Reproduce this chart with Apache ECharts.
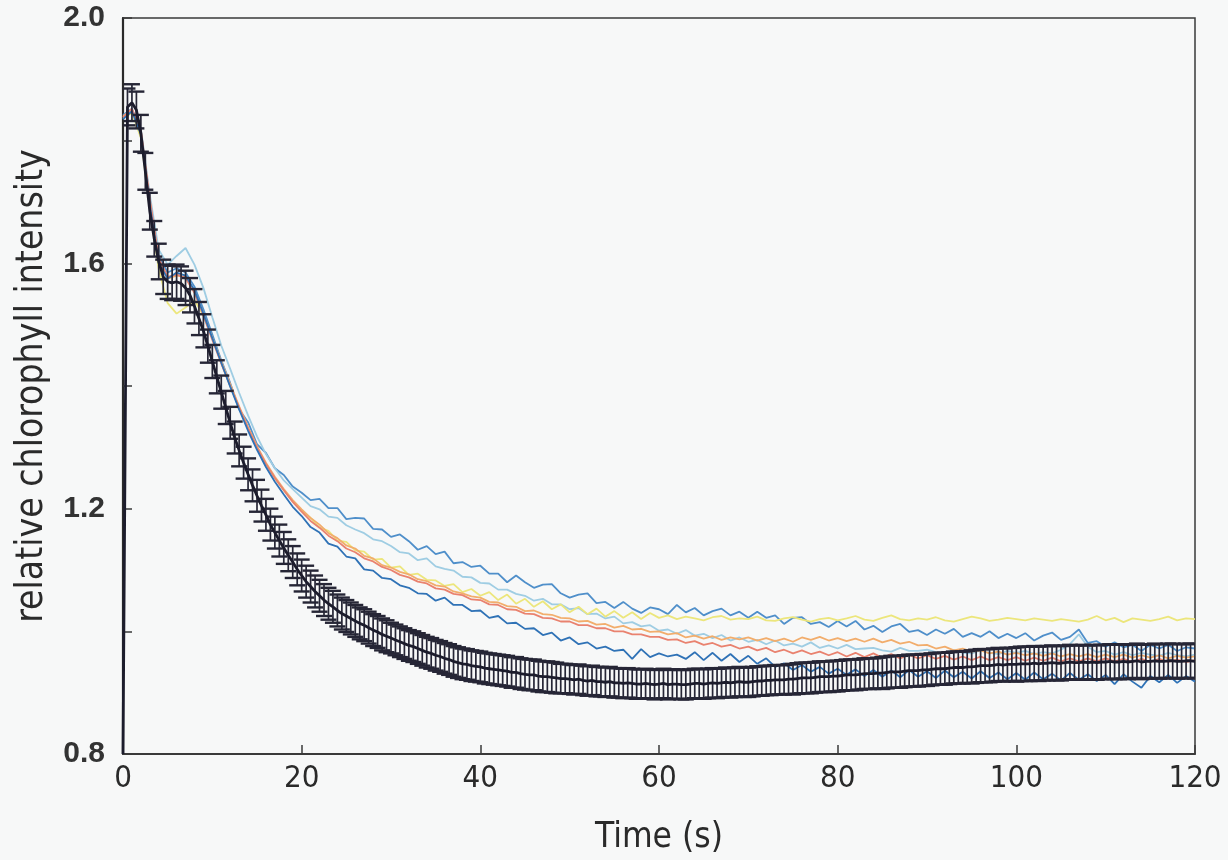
<!DOCTYPE html>
<html>
<head>
<meta charset="utf-8">
<script src="https://cdn.jsdelivr.net/npm/echarts@6/dist/echarts.min.js"></script>
<style>
html,body{margin:0;padding:0;background:#f7f8f8;}
#chart{width:1228px;height:860px;}
</style>
</head>
<body>
<div id="chart"></div>
<script>
// ---------- DATA ----------
const xTicks = [0, 20, 40, 60, 80, 100, 120];
const yTickLabels = ['0.8', '1.2', '1.6', '2.0'];
const meanStep = 0.5;   // s between averaged points
const traceStep = 1.0;  // s between points of single traces

// averaged trace (black, with error bars), t = 0 .. 120 s every 0.5 s
const meanValues = [
0.800,1.855,1.862,1.850,1.812,1.750,1.685,1.640,1.603,1.578,
1.570,1.568,1.570,1.567,1.560,1.548,1.530,1.510,1.490,1.465,
1.440,1.415,1.390,1.365,1.340,1.316,1.295,1.275,1.256,1.238,
1.221,1.205,1.190,1.174,1.161,1.148,1.136,1.124,1.113,1.101,
1.091,1.081,1.073,1.065,1.058,1.051,1.045,1.040,1.034,1.029,
1.025,1.021,1.017,1.013,1.010,1.006,1.002,0.999,0.995,0.992,
0.989,0.986,0.983,0.980,0.977,0.975,0.972,0.969,0.966,0.964,
0.961,0.959,0.956,0.954,0.951,0.949,0.947,0.946,0.944,0.943,
0.942,0.940,0.939,0.938,0.937,0.936,0.935,0.933,0.933,0.931,
0.930,0.929,0.929,0.927,0.926,0.926,0.925,0.924,0.923,0.923,
0.922,0.921,0.922,0.920,0.919,0.920,0.918,0.918,0.917,0.918,
0.916,0.916,0.915,0.916,0.915,0.914,0.914,0.915,0.914,0.913,
0.914,0.915,0.913,0.914,0.914,0.913,0.913,0.914,0.915,0.915,
0.914,0.915,0.916,0.915,0.916,0.917,0.916,0.917,0.918,0.917,
0.917,0.918,0.919,0.919,0.920,0.920,0.921,0.921,0.921,0.922,
0.922,0.923,0.924,0.924,0.924,0.925,0.926,0.926,0.926,0.927,
0.927,0.928,0.929,0.929,0.929,0.930,0.931,0.931,0.931,0.932,
0.932,0.933,0.934,0.934,0.934,0.935,0.936,0.936,0.936,0.937,
0.937,0.938,0.939,0.939,0.939,0.940,0.941,0.941,0.941,0.942,
0.942,0.943,0.944,0.944,0.944,0.945,0.946,0.945,0.946,0.946,
0.946,0.947,0.947,0.947,0.948,0.947,0.948,0.948,0.949,0.948,
0.948,0.949,0.950,0.949,0.949,0.950,0.949,0.950,0.949,0.950,
0.950,0.951,0.950,0.950,0.951,0.950,0.951,0.952,0.950,0.951,
0.951,0.952,0.951,0.951,0.952,0.952,0.951,0.951,0.952,0.952,
0.951
];
const meanErrors = [
0.000,0.030,0.030,0.030,0.030,0.030,0.030,0.029,0.029,0.028,
0.028,0.028,0.028,0.028,0.028,0.028,0.028,0.027,0.027,0.027,
0.027,0.027,0.027,0.027,0.026,0.026,0.026,0.026,0.026,0.026,
0.026,0.026,0.026,0.026,0.026,0.026,0.026,0.026,0.026,0.026,
0.026,0.026,0.026,0.026,0.026,0.026,0.026,0.026,0.026,0.026,
0.026,0.026,0.026,0.026,0.026,0.026,0.026,0.026,0.026,0.026,
0.025,0.025,0.025,0.025,0.025,0.025,0.025,0.025,0.025,0.025,
0.025,0.025,0.025,0.025,0.025,0.025,0.025,0.025,0.025,0.025,
0.025,0.025,0.025,0.025,0.025,0.025,0.025,0.025,0.025,0.025,
0.025,0.025,0.025,0.025,0.025,0.025,0.025,0.025,0.024,0.024,
0.024,0.024,0.024,0.024,0.024,0.024,0.024,0.024,0.024,0.024,
0.024,0.024,0.024,0.024,0.024,0.024,0.024,0.024,0.024,0.024,
0.024,0.024,0.024,0.024,0.024,0.024,0.024,0.024,0.024,0.024,
0.024,0.024,0.024,0.024,0.024,0.024,0.024,0.024,0.024,0.024,
0.024,0.024,0.024,0.024,0.024,0.024,0.024,0.024,0.024,0.024,
0.025,0.025,0.025,0.025,0.025,0.025,0.025,0.025,0.025,0.025,
0.025,0.025,0.025,0.025,0.025,0.025,0.025,0.025,0.025,0.025,
0.026,0.026,0.026,0.026,0.026,0.026,0.026,0.026,0.026,0.026,
0.026,0.026,0.026,0.026,0.026,0.026,0.026,0.026,0.026,0.026,
0.027,0.027,0.027,0.027,0.027,0.027,0.027,0.027,0.027,0.027,
0.028,0.028,0.028,0.028,0.028,0.028,0.028,0.028,0.028,0.028,
0.028,0.028,0.028,0.028,0.028,0.028,0.028,0.028,0.028,0.028,
0.028,0.028,0.028,0.028,0.028,0.028,0.028,0.028,0.028,0.028,
0.028,0.028,0.028,0.028,0.028,0.028,0.028,0.028,0.028,0.028,
0.028
];

// individual traces, t = 0 .. 120 s every 1 s
const traceBlue = [
1.842,1.852,1.815,1.705,1.612,1.585,1.592,1.585,1.562,1.525,
1.484,1.442,1.405,1.362,1.341,1.305,1.291,1.266,1.255,1.236,
1.226,1.214,1.216,1.201,1.201,1.183,1.185,1.184,1.167,1.166,
1.154,1.158,1.147,1.133,1.139,1.126,1.130,1.111,1.113,1.105,
1.107,1.094,1.094,1.080,1.091,1.080,1.071,1.076,1.077,1.062,
1.055,1.060,1.062,1.046,1.048,1.038,1.048,1.037,1.030,1.039,
1.036,1.028,1.043,1.031,1.038,1.026,1.033,1.037,1.026,1.032,
1.022,1.032,1.022,1.026,1.012,1.022,1.023,1.012,1.015,1.007,
1.017,1.008,1.017,1.003,1.009,0.999,1.008,1.012,0.999,1.002,
0.994,1.003,0.996,1.004,0.991,0.997,0.991,1.000,0.989,0.996,
0.989,0.997,0.985,0.993,0.998,0.986,0.991,1.003,0.981,0.984,
0.975,0.982,0.974,0.978,0.968,0.978,0.972,0.978,0.968,0.974,
0.972
];
const traceLightBlue = [
1.838,1.848,1.820,1.712,1.622,1.598,1.612,1.625,1.598,1.560,
1.512,1.466,1.428,1.389,1.352,1.318,1.289,1.266,1.246,1.232,
1.218,1.204,1.199,1.187,1.185,1.173,1.166,1.160,1.150,1.147,
1.139,1.129,1.127,1.116,1.119,1.106,1.102,1.099,1.089,1.088,
1.079,1.078,1.068,1.068,1.061,1.058,1.050,1.053,1.044,1.044,
1.036,1.038,1.028,1.029,1.021,1.024,1.013,1.015,1.008,1.010,
1.001,1.003,0.996,1.002,0.993,0.996,0.989,0.994,0.985,0.990,
0.983,0.986,0.979,0.985,0.977,0.980,0.975,0.982,0.973,0.977,
0.972,0.978,0.971,0.972,0.973,0.969,0.967,0.973,0.968,0.968,
0.970,0.966,0.965,0.970,0.965,0.964,0.969,0.965,0.963,0.968,
0.965,0.968,0.963,0.966,0.964,0.970,0.979,0.995,0.975,0.966,
0.968,0.962,0.966,0.961,0.965,0.962,0.960,0.965,0.961,0.959,
0.962
];
const traceYellow = [
1.836,1.845,1.805,1.690,1.590,1.535,1.518,1.528,1.540,1.515,
1.478,1.438,1.400,1.364,1.330,1.300,1.272,1.250,1.230,1.212,
1.196,1.185,1.169,1.164,1.148,1.146,1.132,1.130,1.117,1.118,
1.104,1.106,1.092,1.094,1.084,1.083,1.074,1.077,1.064,1.069,
1.058,1.064,1.051,1.060,1.045,1.053,1.040,1.049,1.036,1.044,
1.031,1.040,1.028,1.037,1.024,1.033,1.022,1.031,1.020,1.030,
1.022,1.026,1.020,1.024,1.021,1.018,1.023,1.025,1.019,1.021,
1.020,1.024,1.018,1.017,1.021,1.023,1.019,1.016,1.020,1.022,
1.018,1.021,1.025,1.019,1.017,1.022,1.026,1.020,1.018,1.021,
1.019,1.023,1.018,1.016,1.020,1.024,1.021,1.017,1.019,1.022,
1.020,1.018,1.021,1.019,1.017,1.020,1.018,1.016,1.019,1.025,
1.018,1.022,1.015,1.021,1.019,1.017,1.020,1.024,1.018,1.021,
1.020
];
const traceOrange = [
1.840,1.850,1.812,1.700,1.605,1.575,1.580,1.578,1.555,1.518,
1.478,1.440,1.403,1.367,1.333,1.302,1.275,1.252,1.232,1.214,
1.199,1.185,1.174,1.160,1.152,1.140,1.135,1.123,1.119,1.108,
1.104,1.097,1.093,1.085,1.082,1.075,1.073,1.065,1.062,1.057,
1.055,1.048,1.047,1.041,1.040,1.033,1.034,1.028,1.027,1.022,
1.021,1.016,1.017,1.011,1.012,1.006,1.009,1.003,1.004,0.999,
1.000,0.995,0.997,0.990,0.993,0.988,0.992,0.986,0.990,0.987,
0.990,0.985,0.989,0.984,0.988,0.983,0.990,0.986,0.991,0.985,
0.989,0.984,0.988,0.983,0.988,0.982,0.986,0.980,0.983,0.977,
0.978,0.972,0.975,0.969,0.972,0.967,0.969,0.964,0.967,0.962,
0.965,0.961,0.964,0.960,0.964,0.959,0.963,0.959,0.963,0.958,
0.962,0.958,0.962,0.957,0.961,0.957,0.961,0.956,0.960,0.957,
0.959
];
const traceRed = [
1.838,1.852,1.818,1.705,1.608,1.578,1.582,1.576,1.552,1.515,
1.475,1.437,1.400,1.365,1.331,1.300,1.273,1.250,1.230,1.211,
1.195,1.180,1.169,1.156,1.147,1.135,1.129,1.119,1.114,1.105,
1.100,1.092,1.088,1.081,1.078,1.070,1.068,1.061,1.059,1.052,
1.051,1.044,1.043,1.036,1.035,1.029,1.028,1.022,1.021,1.016,
1.016,1.010,1.010,1.005,1.005,1.000,1.000,0.995,0.995,0.991,
0.991,0.986,0.987,0.981,0.984,0.978,0.981,0.975,0.978,0.972,
0.975,0.969,0.973,0.966,0.970,0.964,0.969,0.963,0.967,0.961,
0.966,0.959,0.965,0.958,0.964,0.957,0.963,0.956,0.962,0.956,
0.961,0.955,0.960,0.954,0.959,0.953,0.959,0.953,0.958,0.953,
0.958,0.952,0.957,0.952,0.957,0.951,0.956,0.951,0.956,0.951,
0.956,0.951,0.955,0.950,0.955,0.950,0.955,0.950,0.954,0.950,
0.953
];
const traceDarkBlue = [
1.835,1.848,1.810,1.695,1.600,1.575,1.585,1.580,1.556,1.518,
1.478,1.438,1.399,1.362,1.327,1.296,1.268,1.244,1.223,1.203,
1.188,1.170,1.161,1.143,1.138,1.122,1.119,1.101,1.099,1.087,
1.085,1.075,1.071,1.062,1.061,1.050,1.055,1.043,1.043,1.033,
1.034,1.022,1.025,1.013,1.014,1.004,1.005,0.994,0.998,0.985,
0.990,0.979,0.982,0.972,0.975,0.968,0.970,0.955,0.971,0.958,
0.964,0.959,0.962,0.955,0.966,0.953,0.965,0.952,0.963,0.950,
0.960,0.947,0.956,0.942,0.948,0.937,0.945,0.934,0.942,0.931,
0.939,0.929,0.938,0.927,0.937,0.926,0.936,0.925,0.937,0.926,
0.935,0.924,0.936,0.925,0.934,0.923,0.935,0.924,0.933,0.922,
0.932,0.921,0.933,0.922,0.931,0.920,0.932,0.921,0.930,0.919,
0.929,0.914,0.930,0.918,0.908,0.927,0.917,0.929,0.916,0.927,
0.918
];

const traces = [
  {name: 'trace A', values: traceBlue, color: '#4f8fca'},
  {name: 'trace B', values: traceLightBlue, color: '#9fcde3'},
  {name: 'trace C', values: traceYellow, color: '#ece67c'},
  {name: 'trace D', values: traceOrange, color: '#f2ad6c'},
  {name: 'trace E', values: traceRed, color: '#e9826f'},
  {name: 'trace F', values: traceDarkBlue, color: '#2f72b6'}
];

// ---------- CHART ----------
const chart = echarts.init(document.getElementById('chart'), null, {renderer: 'canvas'});

const meanData = meanValues.map((v, i) => [i * meanStep, v, meanErrors[i]]);

const narrow = "'Liberation Sans Narrow','DejaVu Sans Condensed','Liberation Sans',sans-serif";

const series = [];
traces.forEach(tr => {
  series.push({
    name: tr.name,
    type: 'line',
    data: tr.values.map((v, i) => [i * traceStep, v]),
    showSymbol: false,
    symbol: 'none',
    lineStyle: {color: tr.color, width: 1.8},
    silent: true,
    z: 2
  });
});
series.push({
  name: 'error',
  type: 'custom',
  data: meanData,
  clip: true,
  silent: true,
  z: 3,
  renderItem: function (params, api) {
    const t = api.value(0), v = api.value(1), e = api.value(2);
    if (!e) return null;
    const top = api.coord([t, v + e]);
    const bot = api.coord([t, v - e]);
    const hw = 8;
    const stV = {stroke: '#262636', lineWidth: 1.7};
    const stC = {stroke: '#262636', lineWidth: 2.4};
    return {
      type: 'group',
      children: [
        {type: 'line', shape: {x1: top[0], y1: top[1], x2: bot[0], y2: bot[1]}, style: stV},
        {type: 'line', shape: {x1: top[0] - hw, y1: top[1], x2: top[0] + hw, y2: top[1]}, style: stC},
        {type: 'line', shape: {x1: bot[0] - hw, y1: bot[1], x2: bot[0] + hw, y2: bot[1]}, style: stC}
      ]
    };
  }
});
series.push({
  name: 'mean',
  type: 'line',
  data: meanData.map(d => [d[0], d[1]]),
  showSymbol: false,
  symbol: 'none',
  lineStyle: {color: '#1c1c2c', width: 2.8},
  silent: true,
  z: 4
});

chart.setOption({
  animation: false,
  backgroundColor: '#f7f8f8',
  grid: {left: 123, right: 33, top: 18, bottom: 103, show: true, borderColor: '#3a3a3a', borderWidth: 1.5, backgroundColor: 'transparent'},
  xAxis: {
    type: 'value',
    min: xTicks[0], max: xTicks[xTicks.length - 1], interval: 20,
    name: 'Time (s)', nameLocation: 'middle', nameGap: 66,
    nameTextStyle: {fontFamily: narrow, fontSize: 35, color: '#2a2a2a'},
    axisLine: {show: true, lineStyle: {color: '#3a3a3a', width: 1.8}},
    axisTick: {show: true, inside: true, length: 9, lineStyle: {color: '#3a3a3a', width: 1.5}},
    axisLabel: {fontFamily: narrow, fontSize: 31, color: '#2a2a2a', margin: 9},
    splitLine: {show: false}
  },
  yAxis: {
    type: 'value',
    min: 0.8, max: 2.0, interval: 0.2,
    name: 'relative chlorophyll intensity', nameLocation: 'middle', nameGap: 72,
    nameTextStyle: {fontFamily: narrow, fontSize: 37, color: '#2a2a2a'},
    axisLine: {show: true, lineStyle: {color: '#2a2a2a', width: 2.2}},
    axisTick: {show: true, inside: true, length: 9, lineStyle: {color: '#3a3a3a', width: 1.5}},
    axisLabel: {
      fontFamily: "'Liberation Sans',Arial,sans-serif", fontWeight: 'bold', fontSize: 30, color: '#333', margin: 18,
      padding: [10, 0, 0, 0],
      formatter: function (v) {
        const s = v.toFixed(1);
        return yTickLabels.indexOf(s) >= 0 ? s : '';
      }
    },
    splitLine: {show: false}
  },
  series: series
});
</script>
</body>
</html>
